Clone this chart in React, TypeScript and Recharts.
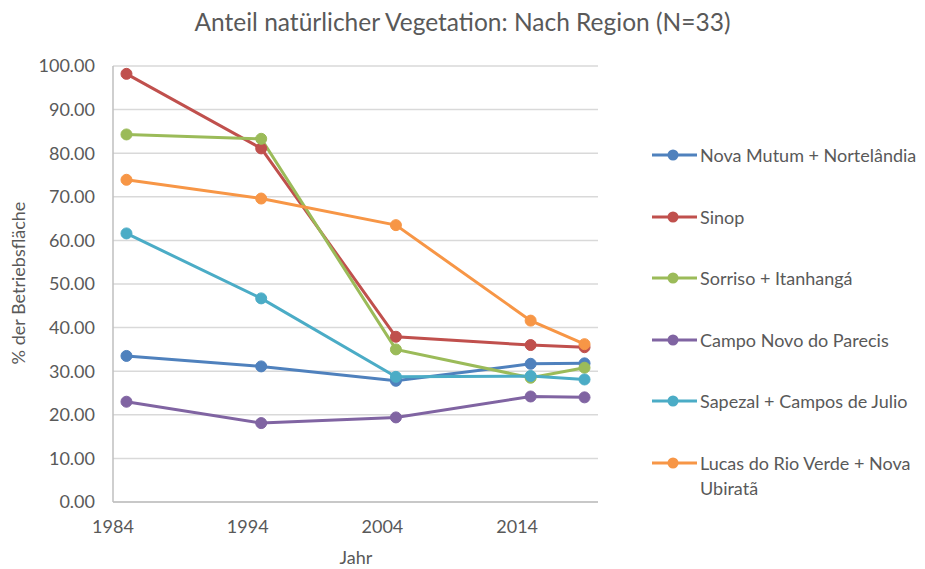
import React from "react";
import { LineChart, Line, XAxis, YAxis, CartesianGrid } from "recharts";

// Jahre und Anteile (% der Betriebsfläche) je Region
const years = [1985, 1995, 2005, 2015, 2019];
const xTicks = [1984, 1994, 2004, 2014];
const yTicks = [0, 10, 20, 30, 40, 50, 60, 70, 80, 90, 100];

const novaMutum = [33.5, 31.1, 27.8, 31.7, 31.8];
const sinop = [98.2, 81.1, 37.9, 36.0, 35.5];
const sorriso = [84.3, 83.3, 35.0, 28.5, 30.8];
const campoNovo = [23.0, 18.1, 19.4, 24.2, 24.0];
const sapezal = [61.6, 46.7, 28.7, 28.9, 28.1];
const lucas = [73.9, 69.6, 63.5, 41.6, 36.2];

const series = [
  { key: "novaMutum", name: "Nova Mutum + Nortelândia", values: novaMutum, color: "#4F81BD" },
  { key: "sinop", name: "Sinop", values: sinop, color: "#C0504D" },
  { key: "sorriso", name: "Sorriso + Itanhangá", values: sorriso, color: "#9BBB59" },
  { key: "campoNovo", name: "Campo Novo do Parecis", values: campoNovo, color: "#8064A2" },
  { key: "sapezal", name: "Sapezal + Campos de Julio", values: sapezal, color: "#4BACC6" },
  { key: "lucas", name: "Lucas do Rio Verde + Nova Ubiratã", values: lucas, color: "#F79646" },
];

const data = years.map((year, i) => {
  const row: any = { year };
  series.forEach((s) => {
    row[s.key] = s.values[i];
  });
  return row;
});

const FONT = "Lato, 'Open Sans', sans-serif";
const TEXT = "#595959";

export default function App() {
  return (
    <div style={{ position: "absolute", left: 0, top: 0, width: 925, height: 569, background: "#fff", fontFamily: FONT, overflow: "hidden" }}>
      {/* Titel */}
      <div style={{ position: "absolute", top: 7, left: 0, width: 925, textAlign: "center", fontSize: 24.5, color: TEXT }}>
        Anteil natürlicher Vegetation: Nach Region (N=33)
      </div>

      <LineChart width={925} height={569} data={data} margin={{ top: 66, right: 327, left: 53, bottom: 37 }}>
        <CartesianGrid stroke="#d9d9d9" strokeWidth={1.5} vertical={false} />
        <XAxis
          dataKey="year"
          type="number"
          domain={[1984, 2020]}
          ticks={xTicks}
          height={30}
          tickLine={false}
          tickMargin={12}
          stroke="#bfbfbf"
          strokeWidth={1.5}
          tick={{ fill: TEXT, fontSize: 18, fontFamily: FONT }}
        />
        <YAxis
          type="number"
          domain={[0, 100]}
          ticks={yTicks}
          width={60}
          tickLine={false}
          tickMargin={12}
          stroke="#bfbfbf"
          strokeWidth={1.5}
          tickFormatter={(v: number) => v.toFixed(2)}
          tick={{ fill: TEXT, fontSize: 18, fontFamily: FONT }}
        />
        {series.map((s) => (
          <Line
            key={s.key}
            type="linear"
            dataKey={s.key}
            name={s.name}
            stroke={s.color}
            strokeWidth={3}
            dot={{ r: 5.5, fill: s.color, stroke: s.color, strokeWidth: 1 }}
            isAnimationActive={false}
          />
        ))}
      </LineChart>

      {/* Achsentitel */}
      <div style={{ position: "absolute", left: 18, top: 283, width: 0, height: 0 }}>
        <div style={{ position: "absolute", left: -150, top: -11, width: 300, textAlign: "center", fontSize: 18, lineHeight: "22px", color: TEXT, transform: "rotate(-90deg)" }}>
          % der Betriebsfläche
        </div>
      </div>
      <div style={{ position: "absolute", left: 256, top: 547, width: 200, textAlign: "center", fontSize: 18, lineHeight: "21px", color: TEXT }}>
        Jahr
      </div>

      {/* Legende */}
      {series.map((s, i) => (
        <div key={s.key} style={{ position: "absolute", left: 652, top: 143 + i * 61.6, display: "flex", alignItems: "flex-start" }}>
          <svg width={46} height={24} style={{ flex: "none" }}>
            <line x1={0} y1={12} x2={45} y2={12} stroke={s.color} strokeWidth={3} />
            <circle cx={21} cy={12} r={5.5} fill={s.color} />
          </svg>
          <div style={{ width: 225, fontSize: 18, lineHeight: "25px", color: TEXT, marginLeft: 2 }}>{s.name}</div>
        </div>
      ))}
    </div>
  );
}
